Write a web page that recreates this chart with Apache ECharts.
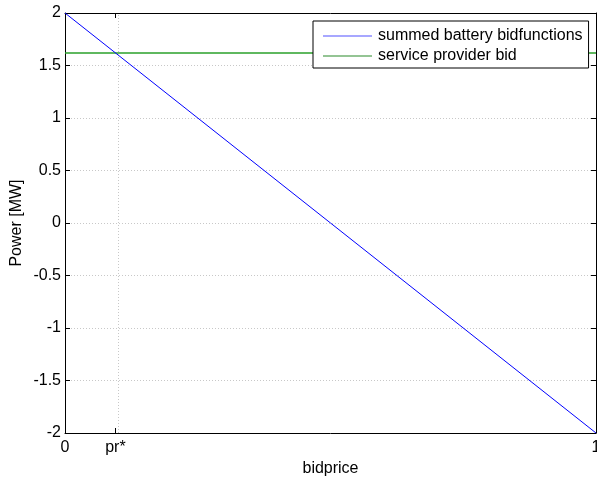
<!DOCTYPE html>
<html>
<head>
<meta charset="utf-8">
<script src="https://cdn.jsdelivr.net/npm/echarts@6/dist/echarts.min.js"></script>
<style>html,body{margin:0;padding:0;background:#fff;}#c{width:597px;height:478px;}</style>
</head>
<body>
<div id="c"></div>
<script>
const bidprice = [0, 1];
const batteryPower = [2, -2];
const providerBid = [1.62, 1.62];
const prStar = 0.095;
const xTicks = [0, prStar, 1];
const xTickLabels = ['0', 'pr*', '1'];
const seriesNames = ['summed battery bidfunctions', 'service provider bid'];

const font = 'Liberation Sans, Arial, Helvetica, sans-serif';
const chart = echarts.init(document.getElementById('c'));
const axisLine = { show: true, onZero: false, lineStyle: { color: '#000', width: 1 } };
const tickStyle = { color: '#000', width: 1 };

chart.setOption({
  animation: false,
  backgroundColor: '#fff',
  grid: { left: 65, right: 1, top: 13, bottom: 45, outerBoundsMode: 'none', containLabel: false },
  legend: {
    data: seriesNames.map(n => ({ name: n, icon: 'rect' })),
    orient: 'vertical',
    left: 313, top: 21,
    itemWidth: 49, itemHeight: 1, itemGap: 4,
    padding: [7, 6, 4, 10],
    borderColor: '#000', borderWidth: 1,
    backgroundColor: '#fff',
    textStyle: { fontFamily: font, fontSize: 16, color: '#000', padding: [0, 0, 0, 1] }
  },
  xAxis: [{
    type: 'value', min: 0, max: 1,
    name: 'bidprice', nameLocation: 'middle', nameGap: 23,
    nameTextStyle: { fontFamily: font, fontSize: 16, color: '#000' },
    axisLine: axisLine,
    axisTick: { show: true, inside: true, length: 5, customValues: xTicks, lineStyle: tickStyle },
    axisLabel: {
      customValues: xTicks, margin: 7,
      alignMinLabel: 'center', alignMaxLabel: 'center',
      fontFamily: font, fontSize: 16, color: '#000',
      formatter: function (v) { const i = xTicks.indexOf(v); return i >= 0 ? xTickLabels[i] : ''; }
    },
    splitLine: { show: false }
  }, {
    type: 'value', min: 0, max: 1, position: 'top',
    axisLine: axisLine,
    axisTick: { show: true, inside: true, length: 5, customValues: xTicks, lineStyle: tickStyle },
    axisLabel: { show: false }, splitLine: { show: false }
  }],
  yAxis: [{
    type: 'value', min: -2, max: 2, interval: 0.5,
    name: 'Power [MW]', nameLocation: 'middle', nameGap: 40, nameMoveOverlap: false,
    nameTextStyle: { fontFamily: font, fontSize: 16, color: '#000' },
    axisLine: axisLine,
    axisTick: { show: true, inside: true, length: 5, lineStyle: tickStyle },
    axisLabel: { margin: 4, fontFamily: font, fontSize: 16, color: '#000' },
    splitLine: { show: true, lineStyle: { color: '#c8c8c8', type: [1, 2], width: 1 } }
  }, {
    type: 'value', min: -2, max: 2, interval: 0.5, position: 'right',
    axisLine: axisLine,
    axisTick: { show: true, inside: true, length: 5, lineStyle: tickStyle },
    axisLabel: { show: false }, splitLine: { show: false }
  }],
  series: [{
    name: seriesNames[0], type: 'line', symbol: 'none',
    data: bidprice.map((x, i) => [x, batteryPower[i]]),
    lineStyle: { color: '#0000ff', width: 1 }, itemStyle: { color: '#5050ff' },
    markLine: {
      silent: true, symbol: 'none', label: { show: false },
      lineStyle: { color: '#c8c8c8', type: [1, 2], width: 1 },
      data: [{ xAxis: prStar }]
    },
    z: 3
  }, {
    name: seriesNames[1], type: 'line', symbol: 'none',
    data: bidprice.map((x, i) => [x, providerBid[i]]),
    lineStyle: { color: '#2aa02a', width: 1.5 }, itemStyle: { color: '#2a8a2a' },
    z: 2
  }]
});
</script>
</body>
</html>
